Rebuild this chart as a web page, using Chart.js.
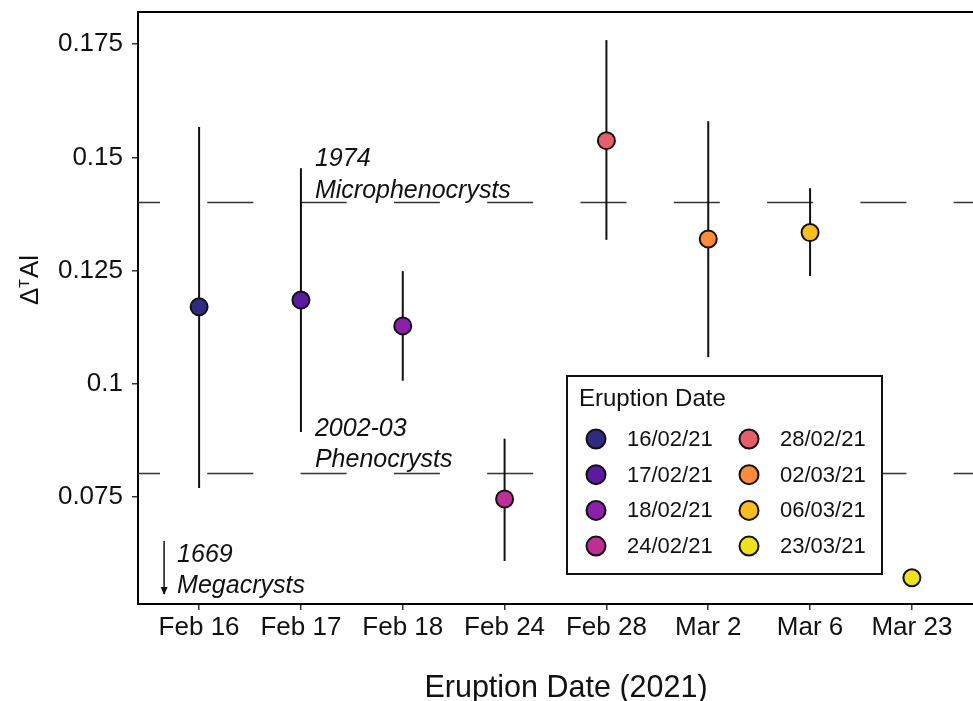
<!DOCTYPE html>
<html>
<head>
<meta charset="utf-8">
<script src="https://cdn.jsdelivr.net/npm/chart.js@4.4.1/dist/chart.umd.min.js"></script>
<style>
  body { margin: 0; background: #fff; }
  canvas { display: block; }
</style>
</head>
<body>
<canvas id="chart" width="973" height="701"></canvas>
<script>
// eruption dates on the x axis
const dateLabels = ['Feb 16', 'Feb 17', 'Feb 18', 'Feb 24', 'Feb 28', 'Mar 2', 'Mar 6', 'Mar 23'];
const legendLabels = ['16/02/21', '17/02/21', '18/02/21', '24/02/21', '28/02/21', '02/03/21', '06/03/21', '23/03/21'];

// mean value and error range for each date
const meanValues = [0.1170, 0.1185, 0.1128, 0.0746, 0.1537, 0.1320, 0.1334, 0.0572];
const lowValues  = [0.0770, 0.0894, 0.1007, 0.0609, 0.1318, 0.1059, 0.1238, null];
const highValues = [0.1567, 0.1476, 0.1249, 0.0879, 0.1759, 0.1580, 0.1432, null];

const pointColors = ['#2f2b80', '#5b1a9f', '#8b21ab', '#c02e94', '#e35f6b', '#fa8c3c', '#fdbd22', '#eee21f'];

const yTicks = [0.075, 0.1, 0.125, 0.15, 0.175];
const yTickLabels = ['0.075', '0.1', '0.125', '0.15', '0.175'];

// reference levels (dashed lines)
const refValues = [0.14, 0.08];

const FONT = '"Liberation Sans", Arial, Helvetica, sans-serif';

const points = meanValues.map((v, i) => ({ x: i + 1, y: v }));

function noPad(s) {
  s.paddingTop = 0; s.paddingBottom = 0; s.paddingLeft = 0; s.paddingRight = 0;
}

const extras = {
  id: 'extras',
  beforeDatasetsDraw(chart) {
    const { ctx, chartArea: a, scales: { x, y } } = chart;
    ctx.save();
    ctx.beginPath();
    ctx.rect(a.left, a.top, a.right - a.left, a.bottom - a.top);
    ctx.clip();

    // dashed reference lines
    ctx.strokeStyle = '#333';
    ctx.lineWidth = 1.5;
    ctx.setLineDash([46, 47.3]);
    refValues.forEach(v => {
      const py = Math.round(y.getPixelForValue(v)) - 0.5;
      ctx.beginPath();
      ctx.moveTo(a.left - 24, py);
      ctx.lineTo(a.right + 50, py);
      ctx.stroke();
    });
    ctx.setLineDash([]);

    // error bars
    ctx.strokeStyle = '#111';
    ctx.lineWidth = 2;
    lowValues.forEach((lo, i) => {
      if (lo === null) return;
      const px = x.getPixelForValue(i + 1);
      ctx.beginPath();
      ctx.moveTo(px, y.getPixelForValue(lo));
      ctx.lineTo(px, y.getPixelForValue(highValues[i]));
      ctx.stroke();
    });
    ctx.restore();
  },
  afterDraw(chart) {
    const { ctx, chartArea: a, scales: { x, y } } = chart;
    ctx.save();

    // top frame line
    ctx.strokeStyle = '#000';
    ctx.lineWidth = 2;
    ctx.beginPath();
    ctx.moveTo(a.left, a.top);
    ctx.lineTo(a.right, a.top);
    ctx.stroke();

    // annotations
    ctx.fillStyle = '#111';
    ctx.font = 'italic 25px ' + FONT;
    ctx.textAlign = 'left';
    ctx.textBaseline = 'alphabetic';
    const x2 = x.getPixelForValue(2) + 14;
    const y14 = y.getPixelForValue(0.14);
    ctx.fillText('1974', x2, y14 - 37);
    ctx.fillText('Microphenocrysts', x2, y14 - 5);
    const y08 = y.getPixelForValue(0.08);
    ctx.fillText('2002-03', x2, y08 - 38);
    ctx.fillText('Phenocrysts', x2, y08 - 7);
    const x1 = x.getPixelForValue(1);
    ctx.fillText('1669', x1 - 22, a.bottom - 42);
    ctx.fillText('Megacrysts', x1 - 22, a.bottom - 11);

    // arrow
    const ax = x1 - 35;
    ctx.strokeStyle = '#111';
    ctx.lineWidth = 1.5;
    ctx.beginPath();
    ctx.moveTo(ax, a.bottom - 63);
    ctx.lineTo(ax, a.bottom - 10);
    ctx.stroke();
    ctx.beginPath();
    ctx.moveTo(ax - 3.5, a.bottom - 17);
    ctx.lineTo(ax, a.bottom - 9);
    ctx.lineTo(ax + 3.5, a.bottom - 17);
    ctx.fill();

    // legend
    ctx.fillStyle = '#fff';
    ctx.fillRect(567, 376, 315, 198);
    ctx.strokeStyle = '#111';
    ctx.lineWidth = 2;
    ctx.strokeRect(567, 376, 315, 198);
    ctx.fillStyle = '#111';
    ctx.font = '24px ' + FONT;
    ctx.fillText('Eruption Date', 579, 406);
    ctx.font = '22px ' + FONT;
    ctx.textBaseline = 'middle';
    legendLabels.forEach((lab, i) => {
      const col = Math.floor(i / 4), row = i % 4;
      const cx = 596 + col * 153;
      const cy = 439 + row * 35.7;
      ctx.beginPath();
      ctx.arc(cx, cy, 9.5, 0, Math.PI * 2);
      ctx.fillStyle = pointColors[i];
      ctx.fill();
      ctx.lineWidth = 2;
      ctx.strokeStyle = '#111';
      ctx.stroke();
      ctx.fillStyle = '#111';
      ctx.fillText(lab, cx + 31, cy + 1);
    });

    // axis titles
    ctx.textBaseline = 'alphabetic';
    ctx.textAlign = 'center';
    ctx.font = '30.5px ' + FONT;
    ctx.fillText('Eruption Date (2021)', 566, 697);

    ctx.translate(38, 280);
    ctx.rotate(-Math.PI / 2);
    ctx.textAlign = 'left';
    ctx.font = '26px ' + FONT;
    const wD = ctx.measureText('\u0394').width;
    const wA = ctx.measureText('Al').width;
    ctx.font = '14px ' + FONT;
    const wT = ctx.measureText('T').width;
    const total = wD + wT + 1 + wA;
    let sx = -total / 2;
    ctx.font = '26px ' + FONT;
    ctx.fillText('\u0394', sx, 0);
    sx += wD;
    ctx.font = '14px ' + FONT;
    ctx.fillText('T', sx, -9);
    sx += wT + 1;
    ctx.font = '26px ' + FONT;
    ctx.fillText('Al', sx, 0);
    ctx.restore();
  }
};

new Chart(document.getElementById('chart').getContext('2d'), {
  type: 'scatter',
  data: {
    datasets: [{
      label: 'Eruption Date',
      data: points,
      backgroundColor: pointColors,
      borderColor: '#111',
      borderWidth: 2,
      pointRadius: 8.5,
      pointHoverRadius: 8.5
    }]
  },
  options: {
    responsive: false,
    animation: false,
    layout: { autoPadding: false, padding: { top: 12, right: 0, left: 0, bottom: 0 } },
    plugins: {
      legend: { display: false },
      tooltip: { enabled: false }
    },
    scales: {
      x: {
        type: 'linear',
        min: 0.4,
        max: 8.6,
        afterFit: s => { s.height = 97; noPad(s); },
        afterBuildTicks: s => { s.ticks = dateLabels.map((_, i) => ({ value: i + 1 })); },
        ticks: {
          callback: v => dateLabels[v - 1],
          font: { family: FONT, size: 26 },
          color: '#111',
          padding: 2,
          maxRotation: 0,
          autoSkip: false
        },
        grid: { drawOnChartArea: false, drawTicks: true, tickLength: 6, color: '#333', lineWidth: 1.5 },
        border: { display: true, color: '#000', width: 2 }
      },
      y: {
        min: 0.0514,
        max: 0.1821,
        afterFit: s => { s.width = 138; noPad(s); },
        afterBuildTicks: s => { s.ticks = yTicks.map(v => ({ value: v })); },
        ticks: {
          callback: v => yTickLabels[yTicks.indexOf(v)],
          font: { family: FONT, size: 26 },
          color: '#111',
          padding: 9
        },
        grid: { drawOnChartArea: false, drawTicks: true, tickLength: 6, color: '#333', lineWidth: 1.5 },
        border: { display: true, color: '#000', width: 2 }
      }
    }
  },
  plugins: [extras]
});
</script>
</body>
</html>
